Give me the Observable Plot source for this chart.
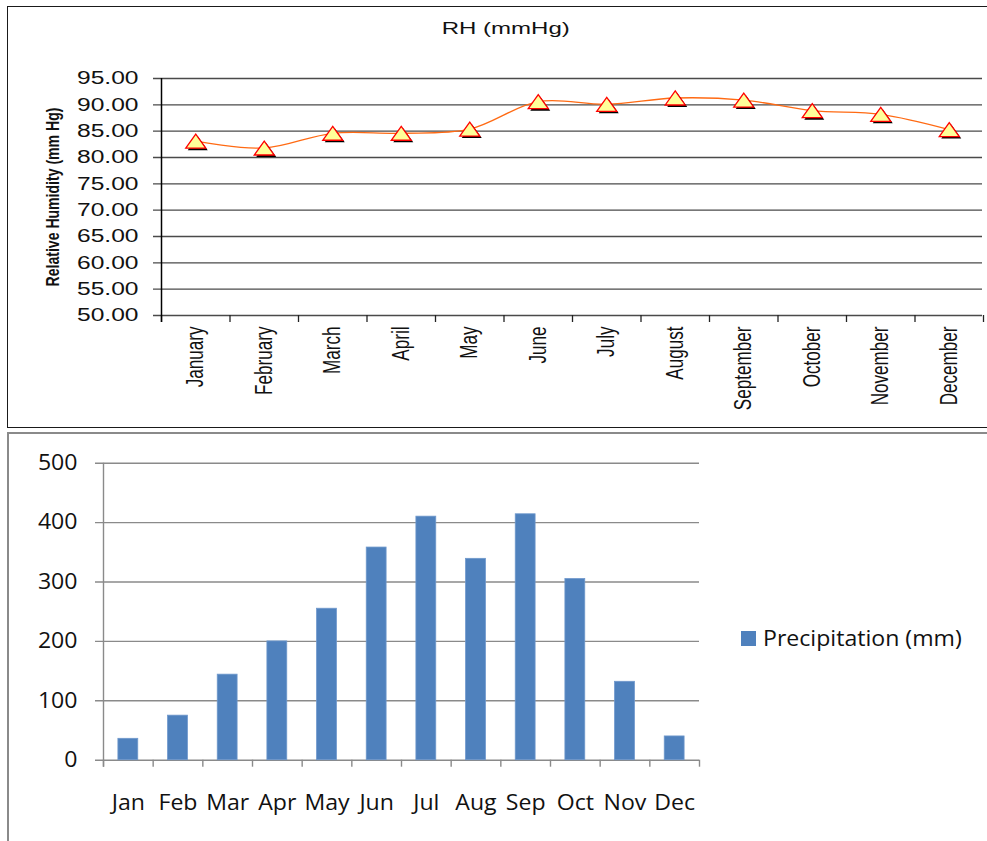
<!DOCTYPE html>
<html>
<head>
<meta charset="utf-8">
<script src="https://cdn.jsdelivr.net/npm/d3@7"></script>
<script src="https://cdn.jsdelivr.net/npm/@observablehq/plot@0.6"></script>
<style>
  html, body { margin: 0; padding: 0; background: #fff; }
  body { position: relative; width: 987px; height: 841px; overflow: hidden; }
  #frame1 { position: absolute; left: 7px; top: 6px; width: 1000px; height: 422px; border: 1.5px solid #1a1a1a; box-sizing: border-box; }
  #frame2 { position: absolute; left: 7px; top: 432px; width: 1000px; height: 440px; border: 2px solid #8a8a8a; box-sizing: border-box; }
  #title1 { position: absolute; left: 0; top: 20px; width: 1011px; text-align: center; font-family: "Liberation Sans", Arial, sans-serif; font-size: 16px; color: #111; transform: scaleX(1.5); transform-origin: 505px 0; }
  #chart1 { position: absolute; left: 0; top: 0; }
  #chart2 { position: absolute; left: 0; top: 433px; }
  #legend { position: absolute; left: 741px; top: 624px; display: flex; align-items: center; font-family: "Open Sans", sans-serif; font-size: 21px; color: #111; }
  #legend .sw { width: 15px; height: 15px; background: #4F81BD; margin-right: 7px; }
  #legendText { display: inline-block; transform: scaleX(1.1); transform-origin: 0 50%; }
</style>
</head>
<body>
<div id="frame1"></div>
<div id="frame2"></div>
<div id="title1">RH (mmHg)</div>
<div id="chart1"></div>
<div id="chart2"></div>
<div id="legend"><div class="sw"></div><span id="legendText"></span></div>
<script>
// ---- Data: Relative humidity ----
const rhMonths = ["January","February","March","April","May","June","July","August","September","October","November","December"];
const rhValues = [83.1, 81.8, 84.6, 84.6, 85.4, 90.6, 90.1, 91.3, 90.9, 88.9, 88.2, 85.3];
const rhTicks = [50, 55, 60, 65, 70, 75, 80, 85, 90, 95];
const rhTitle = "RH (mmHg)";
const rhYLabel = "Relative Humidity (mm Hg)";

// ---- Data: Precipitation ----
const pMonths = ["Jan","Feb","Mar","Apr","May","Jun","Jul","Aug","Sep","Oct","Nov","Dec"];
const pValues = [36, 75, 144, 200, 255, 358, 410, 339, 414, 305, 132, 40];
const pTicks = [0, 100, 200, 300, 400, 500];
const pSeries = "Precipitation (mm)";

document.getElementById("title1").textContent = rhTitle;
document.getElementById("legendText").textContent = pSeries;

// stretch text glyphs (the reference is drawn with horizontally stretched type)
function scaleTexts(svg, selector, sx, sy) {
  svg.querySelectorAll(selector).forEach(t => {
    let tr = t.getAttribute("transform");
    if (!tr) {
      const x = t.getAttribute("x") || 0, y = t.getAttribute("y") || 0;
      t.removeAttribute("x"); t.removeAttribute("y");
      tr = `translate(${x},${y})`;
    }
    t.setAttribute("transform", `${tr} scale(${sx},${sy})`);
  });
}

// ---- Chart 1 ----
const W = 987;
const m1 = {left: 161, right: 4, top: 78, bottom: 112};
const H1 = 427;
const step1 = (W - m1.left - m1.right) / rhMonths.length;
const rhData = rhMonths.map((m, i) => ({month: m, value: rhValues[i]}));

const tri = {
  draw(ctx, size) {
    ctx.moveTo(0, -7);
    ctx.lineTo(10, 7);
    ctx.lineTo(-10, 7);
    ctx.closePath();
  }
};

const arial = "'Liberation Sans', Arial, sans-serif";

const chart1 = Plot.plot({
  width: W, height: H1,
  marginLeft: m1.left, marginRight: m1.right, marginTop: m1.top, marginBottom: m1.bottom,
  style: {background: "transparent", overflow: "visible"},
  x: {type: "band", domain: rhMonths, padding: 0, round: false},
  y: {domain: [50, 95]},
  marks: [
    Plot.ruleY(rhTicks, {y: d => d, stroke: "#4a4a4a", strokeWidth: 1.4, insetLeft: -8, insetRight: 1}),
    Plot.ruleX(rhMonths, {x: d => d, dx: -step1 / 2, y1: 50, y2: 50, insetBottom: -7, stroke: "#222", strokeWidth: 1.3}),
    Plot.ruleX([rhMonths[rhMonths.length - 1]], {x: d => d, dx: step1 / 2, y1: 50, y2: 50, insetBottom: -7, stroke: "#222", strokeWidth: 1.3}),
    Plot.ruleX([rhMonths[0]], {x: d => d, dx: -step1 / 2, y1: 95, y2: 50, insetBottom: -7, stroke: "#000", strokeWidth: 1.5}),
    Plot.line(rhData, {x: "month", y: "value", curve: "catmull-rom", stroke: "#FF6A13", strokeWidth: 1.3}),
    Plot.dot(rhData, {x: "month", y: "value", symbol: tri, fill: "#000", stroke: "none", dx: 2, dy: 2}),
    Plot.dot(rhData, {x: "month", y: "value", symbol: tri, fill: "#FFFF99", stroke: "#FF0000", strokeWidth: 1.3}),
    Plot.axisY(rhTicks, {tickSize: 0, tickPadding: 23, tickFormat: d => d.toFixed(2), fontSize: 18.5, fontFamily: arial, fill: "#111", label: null}),
    Plot.axisX({tickSize: 0, tickPadding: 11, tickRotate: -90, fontSize: 19, fontFamily: arial, fill: "#111", label: null}),
    Plot.text([rhYLabel], {frameAnchor: "left", textAnchor: "middle", rotate: -90, dx: -108, fontWeight: "bold", fontSize: 14.5, fontFamily: arial, fill: "#111"})
  ]
});
scaleTexts(chart1, 'g[aria-label="y-axis tick label"] text', 1.33, 1);
scaleTexts(chart1, 'g[aria-label="x-axis tick label"] text', 0.9, 1.25);
scaleTexts(chart1, 'g[aria-label="text"] text', 0.97, 1.25);
document.getElementById("chart1").appendChild(chart1);

// ---- Chart 2 ----
const m2 = {left: 103, right: 288, top: 29.7, bottom: 81.3};
const H2 = 408;
const step2 = (W - m2.left - m2.right) / pMonths.length;
const pData = pMonths.map((m, i) => ({month: m, value: pValues[i]}));
const calib = "'Open Sans', 'Noto Sans', sans-serif";

const chart2 = Plot.plot({
  width: W, height: H2,
  marginLeft: m2.left, marginRight: m2.right, marginTop: m2.top, marginBottom: m2.bottom,
  style: {background: "transparent", overflow: "visible"},
  x: {type: "band", domain: pMonths, paddingInner: 0.6, paddingOuter: 0.3, round: false},
  y: {domain: [0, 500]},
  marks: [
    Plot.ruleY(pTicks, {y: d => d, stroke: "#8a8a8a", strokeWidth: 1.4, insetLeft: -8}),
    Plot.barY(pData, {x: "month", y: "value", fill: "#4F81BD", stroke: "#6f98cc", strokeWidth: 0.8}),
    Plot.ruleX(pMonths, {x: d => d, dx: -step2 / 2, y1: 0, y2: 0, insetBottom: -7, stroke: "#8a8a8a", strokeWidth: 1.4}),
    Plot.ruleX([pMonths[pMonths.length - 1]], {x: d => d, dx: step2 / 2, y1: 0, y2: 0, insetBottom: -7, stroke: "#8a8a8a", strokeWidth: 1.4}),
    Plot.ruleX([pMonths[0]], {x: d => d, dx: -step2 / 2, y1: 500, y2: 0, insetBottom: -7, stroke: "#8a8a8a", strokeWidth: 1.4}),
    Plot.axisY(pTicks, {tickSize: 0, tickPadding: 26, fontSize: 21, fontFamily: calib, fill: "#111", label: null}),
    Plot.axisX({tickSize: 0, tickPadding: 35, fontSize: 21, fontFamily: calib, fill: "#111", label: null})
  ]
});
scaleTexts(chart2, 'g[aria-label="y-axis tick label"] text', 1.1, 1);
scaleTexts(chart2, 'g[aria-label="x-axis tick label"] text', 1.1, 1);
document.getElementById("chart2").appendChild(chart2);
</script>
</body>
</html>
